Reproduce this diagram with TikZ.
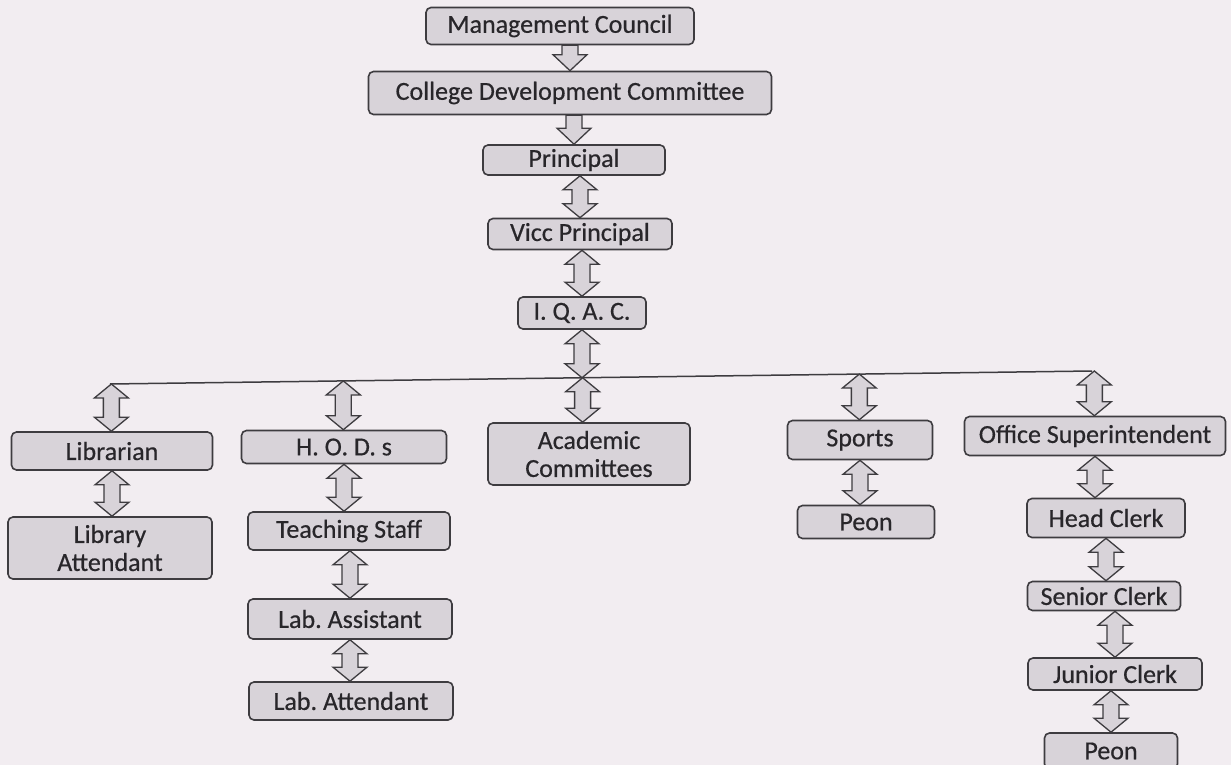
\documentclass[tikz,border=0pt]{standalone}
\usepackage{fontspec}
\setmainfont{Carlito}[FakeBold=0.5]
\usetikzlibrary{positioning}
\usetikzlibrary{calc}
\definecolor{paper}{RGB}{242,237,241}
\definecolor{box-fill}{RGB}{216,211,217}
\definecolor{box-line}{RGB}{62,60,64}
\definecolor{ink}{RGB}{40,38,42}
% block arrow with two heads, x taken from the first point
\newcommand{\twoway}[2]{%
\draw[arrowbox] let \p1 = #1, \p2 = #2 in
 (\x1,\y1) -- (\x1+17pt,\y1-14pt) -- (\x1+8pt,\y1-14pt) -- (\x1+8pt,\y2+14pt)
 -- (\x1+17pt,\y2+14pt) -- (\x1,\y2) -- (\x1-17pt,\y2+14pt) -- (\x1-8pt,\y2+14pt)
 -- (\x1-8pt,\y1-14pt) -- (\x1-17pt,\y1-14pt) -- cycle;}
% block arrow pointing down only
\newcommand{\oneway}[2]{%
\draw[arrowbox] let \p1 = #1, \p2 = #2 in
 (\x1-8pt,\y1) -- (\x1+8pt,\y1) -- (\x1+8pt,\y2+16pt) -- (\x1+17pt,\y2+16pt)
 -- (\x1,\y2) -- (\x1-17pt,\y2+16pt) -- (\x1-8pt,\y2+16pt) -- cycle;}

\begin{document}
\frenchspacing
\begin{tikzpicture}[x=1pt, y=-1pt, font=\fontsize{26}{28}\selectfont,
orgbox/.style 2 args={draw=box-line, fill=box-fill, line width=1.6pt, rounded corners=5pt,
  inner sep=0pt, text=ink, align=center, minimum width=#1pt, minimum height=#2pt},
arrowbox/.style={draw=box-line, fill=box-fill, line width=1.3pt}]

\fill[paper] (0,0) rectangle (1231,765);
\useasboundingbox (0,0) rectangle (1231,765);

%% top column
\node [orgbox={268}{37}] (mc) at (560,26) {Management Council};
\node [orgbox={403}{43}] (cdc) at (570,93) {College Development Committee};
\node [orgbox={182}{30}] (pri) at (574,160) {Principal};
\node [orgbox={184}{31}] (vp) at (580,234) {Vicc Principal};
\node [orgbox={128}{32}] (iqac) at (582,313) {I. Q. A. C.};

%% branches
\node [orgbox={201}{38}] (lib) at (112,451) {Librarian};
\node [orgbox={204}{62}] (libatt) at (110,548) {Library\\Attendant};

\node [orgbox={205}{33}] (hod) at (344,447) {H. O. D. s};
\node [orgbox={202}{38}] (teach) at (349,531) {Teaching Staff};
\node [orgbox={204}{40}] (labasst) at (350,619) {Lab. Assistant};
\node [orgbox={204}{38}] (labatt) at (351,701) {Lab. Attendant};

\node [orgbox={202}{62}] (acad) at (589,454) {Academic\\Committees};

\node [orgbox={145}{39}] (sports) at (860,440) {Sports};
\node [orgbox={137}{33}] (peona) at (866,522) {Peon};

\node [orgbox={261}{39}] (os) at (1095,436) {Office Superintendent};
\node [orgbox={158}{39}] (hc) at (1106,518) {Head Clerk};
\node [orgbox={153}{29}] (sc) at (1104,596) {Senior Clerk};
\node [orgbox={174}{32}] (jc) at (1115,674) {Junior Clerk};
\node [orgbox={133}{36}] (peonb) at (1111,751) {Peon};

%% bar
\coordinate (lineL) at (110,384);
\coordinate (lineR) at (1092,371);
\draw [box-line, line width=1.5pt] (lineL) -- (lineR);

%% arrows
\oneway{(cdc.north |- mc.south)}{(cdc.north)}
\oneway{(pri.north |- cdc.south)}{(pri.north)}
\twoway{(vp.north |- pri.south)}{(vp.north)}
\twoway{(iqac.north |- vp.south)}{(iqac.north)}
\twoway{(iqac.south)}{($(lineL)!(iqac.south)!(lineR)$)}
\twoway{($(lineL)!(iqac.south)!(lineR)$)}{(acad.north)}

\twoway{($(lineL)!(lib.north)!(lineR)$)}{(lib.north)}
\twoway{(lib.south)}{(libatt.north)}

\twoway{($(lineL)!(hod.north)!(lineR)$)}{(hod.north)}
\twoway{(hod.south)}{(teach.north)}
\twoway{(labasst.north |- teach.south)}{(labasst.north)}
\twoway{(labasst.south)}{(labatt.north)}

\twoway{($(lineL)!(sports.north)!(lineR)$)}{(sports.north)}
\twoway{(sports.south)}{(peona.north)}

\twoway{($(lineL)!(os.north)!(lineR)$)}{(os.north)}
\twoway{(os.south)}{(hc.north)}
\twoway{(hc.south)}{(sc.north)}
\twoway{(jc.north |- sc.south)}{(jc.north)}
\twoway{(peonb.north |- jc.south)}{(peonb.north)}

\end{tikzpicture}
\end{document}
